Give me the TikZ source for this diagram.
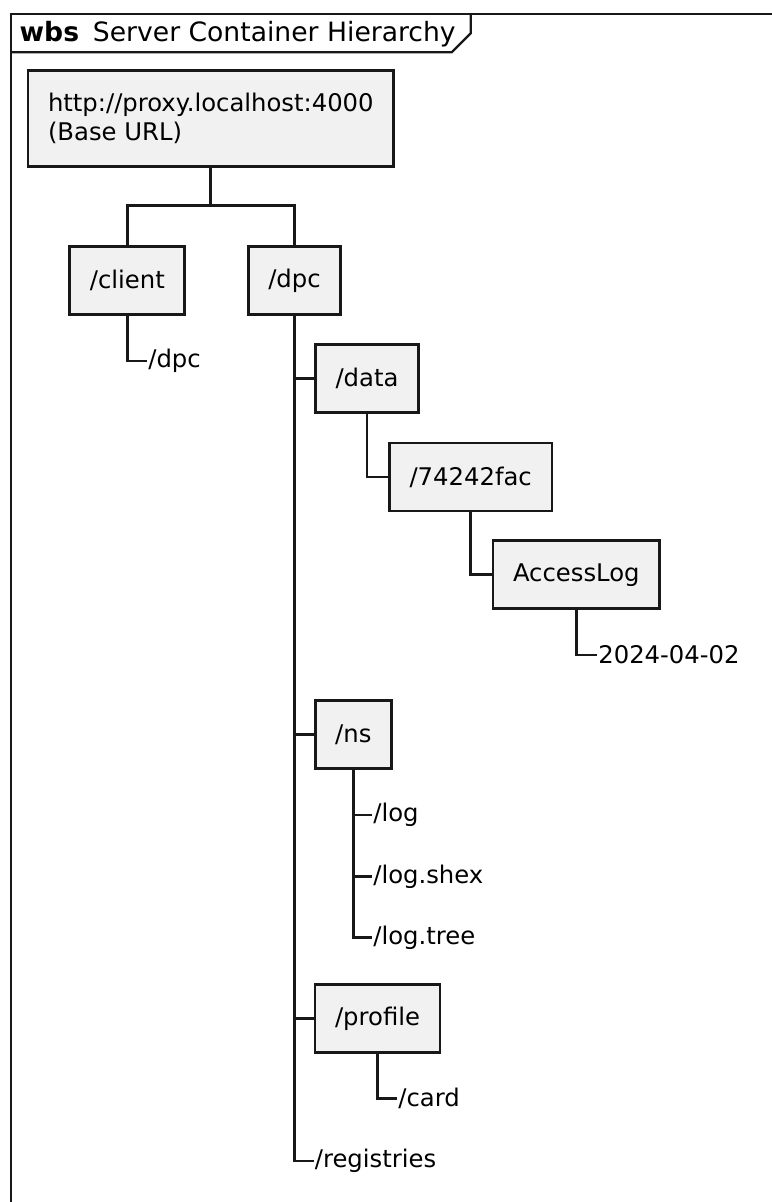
\documentclass[tikz,border=0pt]{standalone}
\usepackage{fontspec}
\setmainfont{DejaVu Sans}
\usepackage{tikz}
\definecolor{boxfill}{HTML}{F1F1F1}
\definecolor{ink}{HTML}{181818}
\tikzset{px/.style={x=1pt,y=-1pt,line width=2.7pt,draw=ink,font=\fontsize{24.3}{29}\selectfont},
  box/.style={draw=ink,fill=boxfill,line width=2.7pt,inner xsep=20pt,minimum height=68pt},
  leaf/.style={anchor=west,inner sep=0pt}}

\begin{document}
\begin{tikzpicture}[px]
  \useasboundingbox (0,0) rectangle (771,1202);
  % frame and title tab
  \draw[line width=2.2pt] (11,1220) -- (11,14) -- (790,14);
  \draw[line width=2.2pt] (11,52.3) -- (451.7,52.3) -- (470.7,33.3) -- (470.7,14);
  \node[anchor=base west,inner sep=0pt,font=\fontsize{26.6}{30}\selectfont] (title) at (18.3,41.3)
    {{\bfseries wbs}\hspace{13.9pt}Server Container Hierarchy};
  % containers
  \node[box,align=left,minimum height=96pt] (base) at (210.8,118.7) {http://proxy.localhost:4000\\(Base URL)};
  \node[box] (client) at (127.3,280.8) {/client};
  \node[box] (dpc) at (294.5,280.8) {/dpc};
  \node[box] (data) at (367,378.3) {/data};
  \node[box] (fac) at (470.7,477) {/74242fac};
  \node[box] (alog) at (576.3,574.8) {AccessLog};
  \node[box] (ns) at (353.3,734.8) {/ns};
  \node[box] (profile) at (377.5,1018.7) {/profile};
  % resources
  \node[leaf] (cdpc) at (147,361) {/dpc};
  \node[leaf] (date) at (597,655) {2024-04-02};
  \node[leaf] (log) at (372,815) {/log};
  \node[leaf] (logshex) at (372,876.7) {/log.shex};
  \node[leaf] (logtree) at (372,937.3) {/log.tree};
  \node[leaf] (card) at (397,1098.3) {/card};
  \node[leaf] (registries) at (313.5,1161) {/registries};
  % links
  \coordinate (fork) at (210.8,205.7);
  \draw (base.south) -- (fork) -| (client.north);
  \draw (fork) -| (dpc.north);
  \draw (client.south) |- (cdpc.west);
  \foreach \n in {data,ns,profile,registries} \draw (dpc.south) |- (\n.west);
  \draw (data.south) |- (fac.west);
  \draw (fac.south) |- (alog.west);
  \draw (alog.south) |- (date.west);
  \foreach \n in {log,logshex,logtree} \draw (ns.south) |- (\n.west);
  \draw (profile.south) |- (card.west);
\end{tikzpicture}
\end{document}
